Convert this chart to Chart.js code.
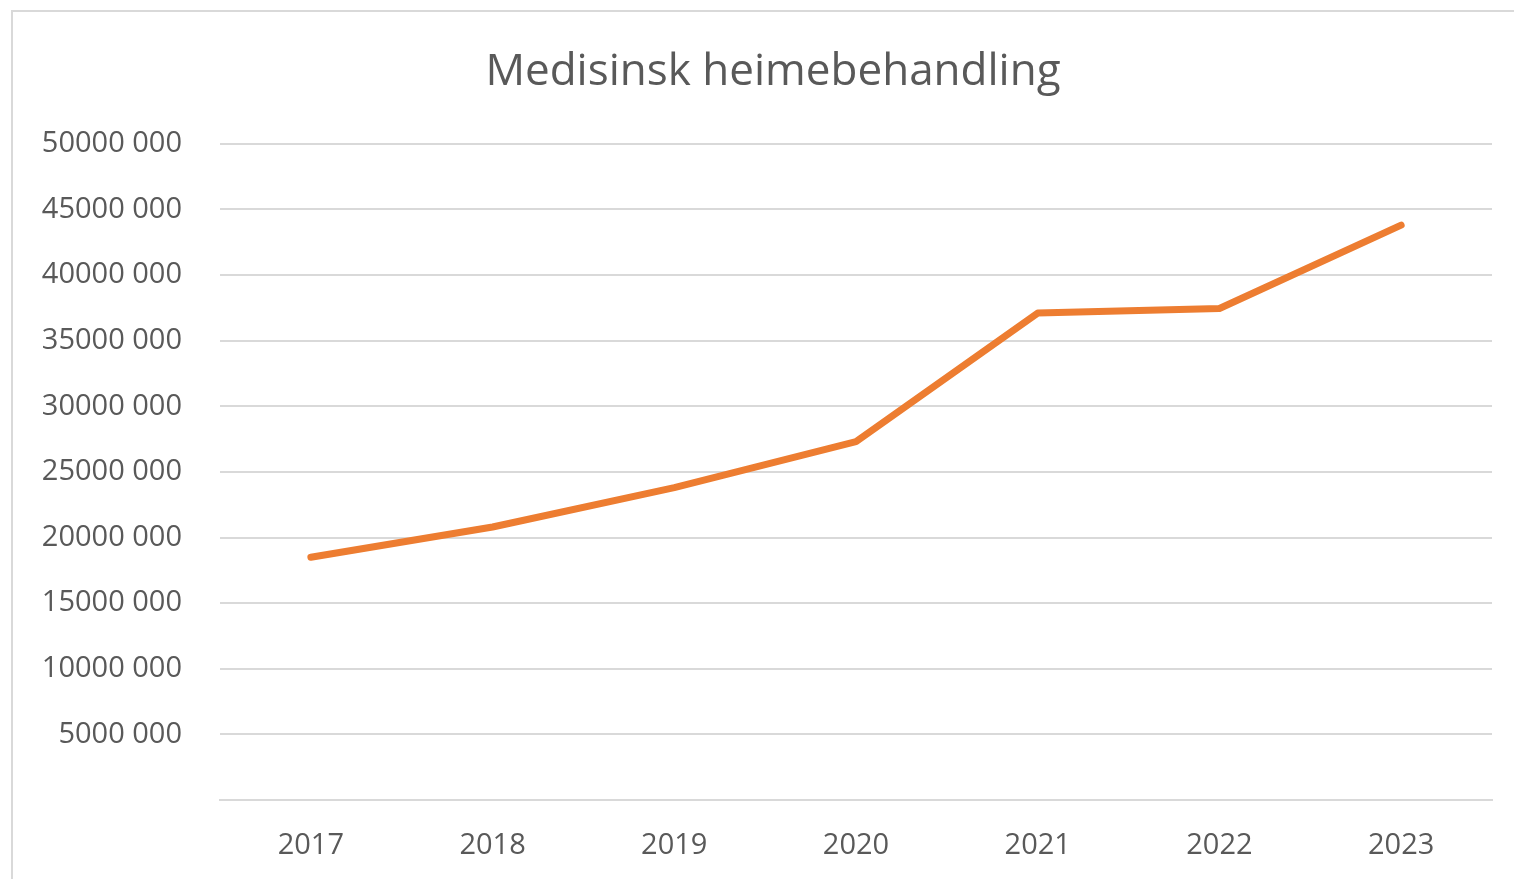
<!DOCTYPE html>
<html>
<head>
<meta charset="utf-8">
<script src="https://cdn.jsdelivr.net/npm/chart.js@4"></script>
<style>
  html, body { margin: 0; padding: 0; background: #fff; overflow: hidden; }
  .frame {
    position: absolute; left: 11px; top: 10px;
    width: 1520px; height: 900px;
    border-left: 2px solid #d9d9d9; border-top: 2px solid #d9d9d9;
  }
  .frame canvas { position: absolute; left: 0; top: 0; }
</style>
</head>
<body>
<div class="frame"><canvas id="chart" width="1520" height="880"></canvas></div>
<script>
// ---- DATA ----
const years = ['2017', '2018', '2019', '2020', '2021', '2022', '2023'];
const amounts = [18500000, 20800000, 23800000, 27300000, 37100000, 37450000, 43800000];
const yTicks = [0, 5000000, 10000000, 15000000, 20000000, 25000000, 30000000, 35000000, 40000000, 45000000, 50000000];

const TEXT = '#595959';
const GRID = '#d9d9d9';
const FONT = "'Open Sans', sans-serif";

// "50000 000" style: space only before the last group
function fmt(v) {
  if (v === 0) return '';
  const s = String(v);
  return s.slice(0, -3) + ' ' + s.slice(-3);
}

new Chart(document.getElementById('chart'), {
  type: 'line',
  data: {
    labels: years,
    datasets: [{
      data: amounts,
      borderColor: '#ED7D31',
      borderWidth: 7,
      borderCapStyle: 'round',
      borderJoinStyle: 'round',
      pointRadius: 0,
      tension: 0,
      fill: false
    }]
  },
  options: {
    responsive: false,
    animation: false,
    layout: { padding: 0 },
    plugins: {
      legend: { display: false },
      tooltip: { enabled: false },
      title: {
        display: true,
        text: 'Medisinsk heimebehandling',
        color: TEXT,
        font: { family: FONT, size: 44, weight: 'normal' },
        padding: { top: 34, bottom: 45 }
      }
    },
    scales: {
      x: {
        offset: true,
        afterFit: (scale) => { scale.height = 92; },
        grid: { display: false, drawTicks: false },
        border: { display: true, color: GRID, width: 2 },
        ticks: { color: TEXT, font: { family: FONT, size: 29 }, padding: 28, maxRotation: 0 }
      },
      y: {
        min: 0,
        max: 50000000,
        afterBuildTicks: (scale) => { scale.ticks = yTicks.map(v => ({ value: v })); },
        afterFit: (scale) => { scale.width = 207; },
        grid: { color: GRID, lineWidth: 2, drawTicks: false },
        border: { display: false },
        ticks: {
          color: TEXT,
          font: { family: FONT, size: 29 },
          padding: 38,
          callback: (v) => fmt(v)
        }
      },
      // empty right-hand spacer so the title centres on the whole frame
      spacer: {
        position: 'right',
        afterFit: (scale) => { scale.width = 41; },
        grid: { display: false, drawTicks: false },
        border: { display: false },
        ticks: { display: false }
      }
    }
  }
});
</script>
</body>
</html>
